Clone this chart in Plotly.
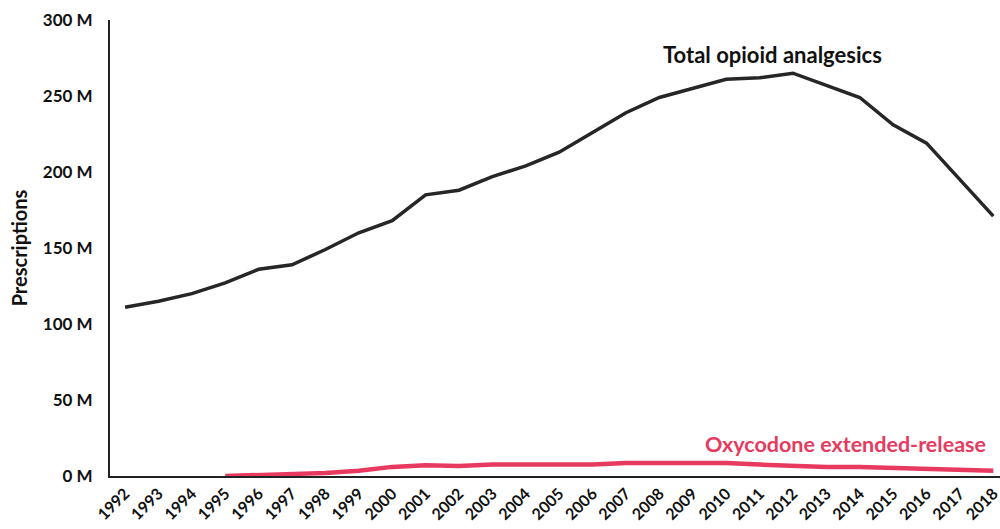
import plotly.graph_objects as go

years = list(range(1992, 2019))
total_opioid = [111, 115, 120, 127, 136, 139, 149, 160, 168, 185, 188, 197, 204, 213,
                226, 239, 249, 255, 261, 262, 265, 257, 249, 231, 219, 195, 171]
oxy_years = list(range(1995, 2019))
oxycodone_er = [0, 0.5, 1, 2, 3.5, 6, 7, 6.5, 7.5, 7.5, 7, 7.5, 8.5, 8.5, 8.5, 8.5,
                7.5, 6.5, 6, 6, 5.5, 5, 4.3, 3.5]

fig = go.Figure()
fig.add_trace(go.Scatter(x=years, y=total_opioid, mode="lines",
                         line=dict(color="#262626", width=3.5), showlegend=False,
                         name="Total opioid analgesics"))
fig.add_trace(go.Scatter(x=oxy_years, y=oxycodone_er, mode="lines",
                         line=dict(color="#e83a5f", width=4.5), showlegend=False,
                         name="Oxycodone extended-release"))

fig.add_annotation(x=2011.4, y=277, text="Total opioid analgesics", showarrow=False,
                   xanchor="center", yanchor="middle",
                   font=dict(family="Lato", size=22, color="#111111", weight="bold"))
fig.add_annotation(x=2017.85, y=21, text="Oxycodone extended-release", showarrow=False,
                   xanchor="right", yanchor="middle",
                   font=dict(family="Lato", size=21.5, color="#e83a5f", weight="bold"))

fig.update_layout(
    width=1000, height=529,
    margin=dict(l=110, r=0, t=20, b=53),
    plot_bgcolor="white", paper_bgcolor="white",
    font=dict(family="Lato", color="#111111"),
)
fig.update_xaxes(range=[1991.55, 2018.2], tickvals=years, ticktext=[str(y) for y in years],
                 tickangle=-45, showgrid=False, zeroline=False, ticklabeloverflow="allow",
                 showline=True, linecolor="#222222", linewidth=2, ticks="",
                 tickfont=dict(family="Lato", size=16, color="#111111", weight="bold"))
fig.update_yaxes(range=[0, 300], tickvals=[0, 50, 100, 150, 200, 250, 300],
                 ticktext=["0 M", "50 M", "100 M", "150 M", "200 M", "250 M", "300 M"],
                 showgrid=False, zeroline=False, showline=True, linecolor="#222222",
                 linewidth=2, ticks="", ticklabelstandoff=12,
                 title=dict(text="Prescriptions", standoff=10,
                            font=dict(family="Lato", size=20, color="#111111", weight="bold")),
                 tickfont=dict(family="Lato", size=17, color="#111111", weight="bold"))

fig.write_html("out.html", config={"displayModeBar": False},
               post_script="document.body.style.margin='0';document.body.style.overflow='hidden';")
